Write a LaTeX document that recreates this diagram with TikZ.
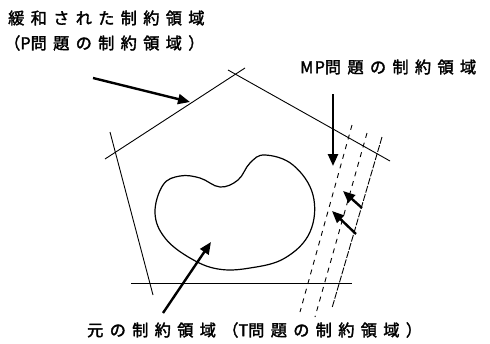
\documentclass[tikz,border=0pt]{standalone}
\usepackage{fontspec}
\newfontfamily\jpfont[LetterSpace=39,FakeBold=2]{Noto Sans CJK JP}
\newfontfamily\jplatin[LetterSpace=8,FakeBold=2]{Noto Sans CJK JP}
\usetikzlibrary{arrows.meta}
\begin{document}
\begin{tikzpicture}[x=1pt,y=-1pt,line cap=butt,line join=miter,font=\jpfont\fontsize{16.2}{18}\selectfont]
	\tikzset{edge/.style={line width=0.9pt},
		cut/.style={line width=0.9pt,dash pattern=on 5pt off 5pt},
		pointer/.style={line width=2.4pt,-{Triangle[length=12pt,width=10pt]}},
		lab/.style={anchor=west,inner sep=0pt}}
	\useasboundingbox (0,0) rectangle (490,343);
	% labels
	\node[lab] (relax) at (8,18) {緩和された制約領域};
	\node[lab] (relaxp) at (4,43) {（{\jplatin P}問題の制約領域）};
	\node[lab] (mp) at (300,67) {{\jplatin MP}問題の制約領域};
	\node[lab] (orig) at (87,330) {元の制約領域（{\jplatin T}問題の制約領域）};
	% pentagon (P problem)
	\draw[edge] (105,159)--(245,68);
	\draw[edge] (228,70)--(390,161);
	\draw[edge] (110,132)--(153,295);
	\draw[edge] (131,283)--(352,283);
	\draw[line width=0.9pt,dash pattern=on 7pt off 1.5pt] (382,137)--(332,308);
	% MP cuts
	\draw[cut] (352,125)--(300,312);
	\draw[cut] (367,133)--(315,317);
	% original region
	\draw[line width=1.2pt] plot[smooth cycle,tension=0.65] coordinates {
		(155,213) (163,185) (180,176) (200,178) (220,187) (238,180)
		(250,163) (265,155) (293,165) (313,195) (310,232) (285,258)
		(250,268) (218,269) (190,258) (165,238)};
	% arrows
	\coordinate (a0) at (93,78);   \coordinate (a1) at (190,102);
	\coordinate (b0) at (333,94);  \coordinate (b1) at (333,166);
	\coordinate (c0) at (362,208); \coordinate (c1) at (343,191);
	\coordinate (d0) at (356,234); \coordinate (d1) at (332,211);
	\coordinate (e0) at (163,313); \coordinate (e1) at (211,242);
	\foreach \n in {a,b,c,d,e}{
		\draw[pointer] (\n0)--(\n1);}
\end{tikzpicture}
\end{document}
